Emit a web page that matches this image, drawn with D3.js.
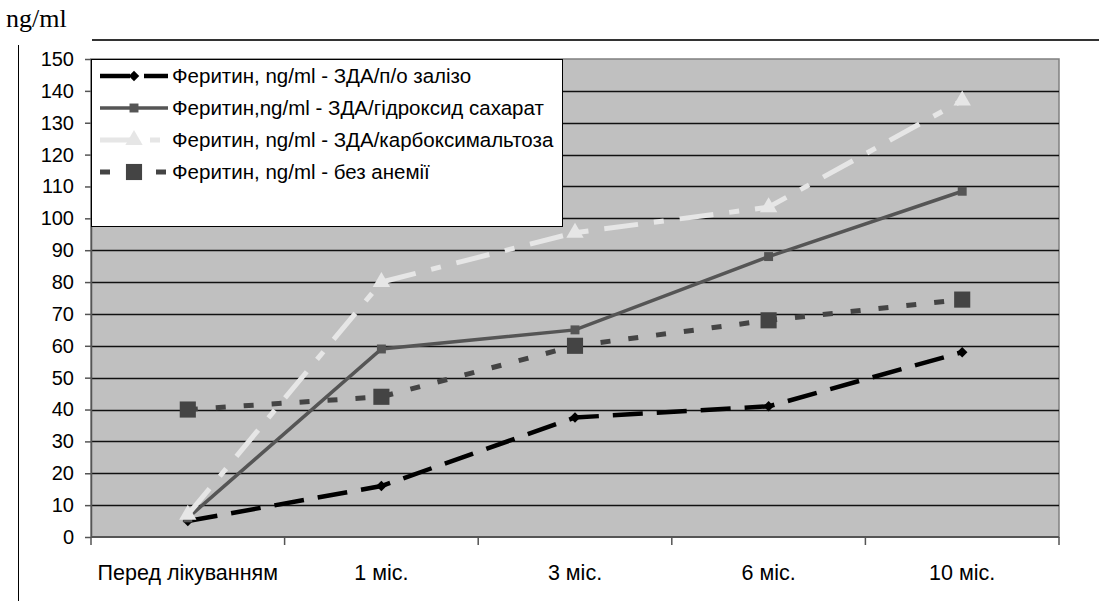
<!DOCTYPE html>
<html lang="uk">
<head>
    <meta charset="UTF-8">
    <title>Феритин</title>
    <script type="text/javascript" src="https://cdn.jsdelivr.net/npm/d3@7/dist/d3.min.js"></script>
    <style>
        body{
            margin: 0;
            background: #fff;
        }
        .axis text{
            font-family: "Liberation Sans", Arial, sans-serif;
            fill: #000;
        }
        .legend text{
            font-family: "Liberation Sans", Arial, sans-serif;
            font-size: 20.5px;
        }
    </style>
</head>
<body>
<div id="app"></div>
<script type="text/javascript">
    var categories = ['Перед лікуванням','1 міс.','3 міс.','6 міс.','10 міс.'];
    var seriesNames = [
        'Феритин, ng/ml - ЗДА/п/о залізо',
        'Феритин,ng/ml - ЗДА/гідроксид сахарат',
        'Феритин, ng/ml - ЗДА/карбоксимальтоза',
        'Феритин, ng/ml - без анемії'
    ];
    var oralIron = [5, 16, 37.5, 41, 58];
    var hydroxide = [6, 59, 65, 88, 108.5];
    var carboxy = [7, 80, 95.5, 103.5, 137];
    var noAnemia = [40, 44, 60, 68, 74.5];
    var yTicks = [0,10,20,30,40,50,60,70,80,90,100,110,120,130,140,150];

    // how each series is drawn
    var styles = [
        {values: oralIron, color:'#000', width:4.5, dash:'30,14', marker:'diamond', size:70},
        {values: hydroxide, color:'#555', width:3.5, dash:null, marker:'square', size:80},
        {values: carboxy, color:'#e6e6e6', width:5, dash:'34,16,10,16', marker:'triangle', size:130},
        {values: noAnemia, color:'#444', width:5, dash:'10,18', marker:'square', size:260}
    ];
    var symbols = {diamond: d3.symbolDiamond2, square: d3.symbolSquare, triangle: d3.symbolTriangle};

    var W = 1099, H = 601;
    var pLeft = 91, pRight = 1059, pTop = 59, pBottom = 537;

    var svg = d3.select('#app').append('svg')
        .attr('width', W).attr('height', H);

    // frame lines around the picture
    svg.append('line').attr('x1', 92).attr('x2', W).attr('y1', 40).attr('y2', 40)
        .attr('stroke', '#333').attr('stroke-width', 2);
    svg.append('line').attr('x1', 18.5).attr('x2', 18.5).attr('y1', 45).attr('y2', H)
        .attr('stroke', '#000').attr('stroke-width', 1);
    svg.append('text').attr('x', 6).attr('y', 27)
        .style('font-family', '"Liberation Serif", "Times New Roman", serif')
        .style('font-size', '26px')
        .text('ng/ml');

    var x = d3.scaleBand().domain(categories).range([pLeft, pRight]);
    var y = d3.scaleLinear().domain([0, 150]).range([pBottom, pTop]);
    var cx = function(i){ return x(categories[i]) + x.bandwidth()/2; };

    // plot area
    svg.append('rect').attr('x', pLeft).attr('y', pTop)
        .attr('width', pRight-pLeft).attr('height', pBottom-pTop)
        .attr('fill', '#c0c0c0').attr('stroke', '#808080').attr('stroke-width', 1.5);

    svg.append('g').selectAll('line')
        .data(yTicks.filter(function(d){ return d > 0 && d < 150; }))
        .enter().append('line')
        .attr('x1', pLeft).attr('x2', pRight)
        .attr('y1', function(d){ return Math.round(y(d)) + 0.5; })
        .attr('y2', function(d){ return Math.round(y(d)) + 0.5; })
        .attr('stroke', '#111').attr('stroke-width', 1.3);

    // y axis
    var yAxis = svg.append('g').attr('class', 'axis')
        .attr('transform', 'translate(' + pLeft + ',0)')
        .call(d3.axisLeft(y).tickValues(yTicks).tickSize(6).tickSizeOuter(0).tickPadding(11));
    yAxis.selectAll('text').style('font-size', '20px');
    yAxis.selectAll('line, path').attr('stroke', '#555').attr('stroke-width', 1.5);

    // x axis, ticks between categories like Excel
    var xg = svg.append('g').attr('class', 'axis');
    xg.append('line').attr('x1', pLeft).attr('x2', pRight).attr('y1', pBottom).attr('y2', pBottom)
        .attr('stroke', '#555').attr('stroke-width', 2);
    var bounds = categories.map(function(c){ return x(c); }).concat([pRight]);
    xg.selectAll('.tk').data(bounds).enter().append('line').attr('class', 'tk')
        .attr('x1', function(d){ return d; }).attr('x2', function(d){ return d; })
        .attr('y1', pBottom).attr('y2', pBottom + 8)
        .attr('stroke', '#555').attr('stroke-width', 1.5);
    xg.selectAll('text').data(categories).enter().append('text')
        .attr('x', function(d, i){ return cx(i); })
        .attr('y', 580)
        .attr('text-anchor', 'middle')
        .style('font-size', '21.5px')
        .text(function(d){ return d; });

    // series lines and markers
    var line = d3.line()
        .x(function(d, i){ return cx(i); })
        .y(function(d){ return y(d); });

    styles.forEach(function(s){
        var g = svg.append('g');
        g.append('path').datum(s.values)
            .attr('d', line)
            .attr('fill', 'none')
            .attr('stroke', s.color)
            .attr('stroke-width', s.width)
            .attr('stroke-dasharray', s.dash);
        g.selectAll('path.mk').data(s.values).enter().append('path').attr('class', 'mk')
            .attr('d', d3.symbol().type(symbols[s.marker]).size(s.size))
            .attr('transform', function(d, i){ return 'translate(' + cx(i) + ',' + y(d) + ')'; })
            .attr('fill', s.color);
    });

    // legend
    var lg = svg.append('g').attr('class', 'legend');
    lg.append('rect').attr('x', pLeft + 0.5).attr('y', pTop + 0.5)
        .attr('width', 471).attr('height', 167)
        .attr('fill', '#fff').attr('stroke', '#000').attr('stroke-width', 1);
    var rows = lg.selectAll('g.row').data(styles).enter().append('g').attr('class', 'row')
        .attr('transform', function(d, i){ return 'translate(0,' + (76 + i*32) + ')'; });
    rows.append('line')
        .attr('x1', 100).attr('x2', 168).attr('y1', 0).attr('y2', 0)
        .attr('stroke', function(d){ return d.color; })
        .attr('stroke-width', function(d){ return d.width; })
        .attr('stroke-dasharray', function(d){ return d.dash; });
    rows.append('path')
        .attr('d', function(d){ return d3.symbol().type(symbols[d.marker]).size(d.size)(); })
        .attr('transform', 'translate(134,0)')
        .attr('fill', function(d){ return d.color; });
    rows.append('text')
        .attr('x', 172).attr('y', 0).attr('dy', '0.35em')
        .text(function(d, i){ return seriesNames[i]; });
</script>
</body>
</html>
